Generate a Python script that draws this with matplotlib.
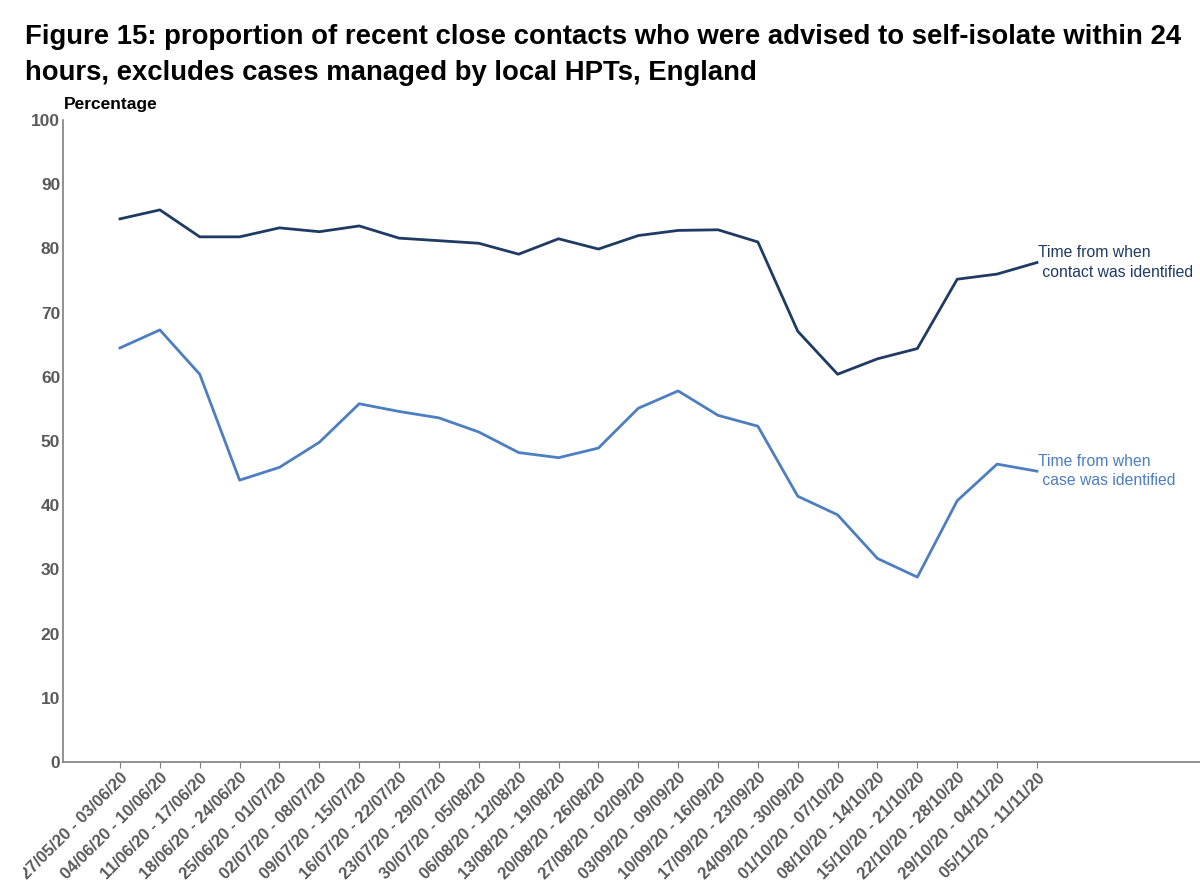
import matplotlib
matplotlib.use("Agg")
import matplotlib.pyplot as plt
from matplotlib.transforms import Bbox, TransformedBbox

plt.rcParams['font.family'] = ['Liberation Sans', 'DejaVu Sans']

weeks = ["27/05/20 - 03/06/20", "04/06/20 - 10/06/20", "11/06/20 - 17/06/20",
         "18/06/20 - 24/06/20", "25/06/20 - 01/07/20", "02/07/20 - 08/07/20",
         "09/07/20 - 15/07/20", "16/07/20 - 22/07/20", "23/07/20 - 29/07/20",
         "30/07/20 - 05/08/20", "06/08/20 - 12/08/20", "13/08/20 - 19/08/20",
         "20/08/20 - 26/08/20", "27/08/20 - 02/09/20", "03/09/20 - 09/09/20",
         "10/09/20 - 16/09/20", "17/09/20 - 23/09/20", "24/09/20 - 30/09/20",
         "01/10/20 - 07/10/20", "08/10/20 - 14/10/20", "15/10/20 - 21/10/20",
         "22/10/20 - 28/10/20", "29/10/20 - 04/11/20", "05/11/20 - 11/11/20"]

contact_identified = [84.6, 86.0, 81.8, 81.8, 83.2, 82.6, 83.5, 81.6, 81.2, 80.8,
                      79.1, 81.5, 79.9, 82.0, 82.8, 82.9, 81.0, 67.1, 60.4, 62.8,
                      64.4, 75.2, 76.0, 77.8]
case_identified = [64.5, 67.3, 60.4, 43.9, 45.9, 49.8, 55.8, 54.6, 53.6, 51.4,
                   48.2, 47.4, 48.9, 55.1, 57.8, 54.0, 52.3, 41.4, 38.5, 31.7,
                   28.8, 40.7, 46.4, 45.3]

series_labels = ["Time from when\n contact was identified",
                 "Time from when\n case was identified"]
y_ticks = [0, 10, 20, 30, 40, 50, 60, 70, 80, 90, 100]

dark = '#1F3A63'
light = '#4C7EC1'
grey = '#595959'

fig = plt.figure(figsize=(12, 8.96), dpi=100)
ax = fig.add_axes([63/1200, 1 - 762/896, 1 - 63/1200, (762 - 120)/896])

x = list(range(len(weeks)))
ax.plot(x, contact_identified, color=dark, lw=2.0, solid_joinstyle='round')
ax.plot(x, case_identified, color=light, lw=2.0, solid_joinstyle='round')

ax.text(x[-1] + 0.02, contact_identified[-1], series_labels[0], color=dark,
        fontsize=11.3, ha='left', va='center', linespacing=1.35)
ax.text(x[-1] + 0.02, case_identified[-1], series_labels[1], color=light,
        fontsize=11.3, ha='left', va='center', linespacing=1.35)

ax.set_ylim(0, 100)
ax.set_xlim(-1.43, 27.09)
ax.set_yticks(y_ticks)
ax.set_yticklabels([str(v) for v in y_ticks], fontsize=12.5, fontweight='bold', color=grey)
ax.set_xticks(x)
ax.set_xticklabels(weeks, rotation=45, ha='right', va='top', rotation_mode='anchor',
                   fontsize=12, fontweight='bold', color=grey)

# the source chart clips its category labels a little inside the left edge
clip = TransformedBbox(Bbox([[23/1200, 0], [1, 1]]), fig.transFigure)
for lab in ax.get_xticklabels():
    lab.set_clip_box(clip)
    lab.set_clip_on(True)

for s in ['top', 'right']:
    ax.spines[s].set_visible(False)
for s in ['left', 'bottom']:
    ax.spines[s].set_color('#7f7f7f')
    ax.spines[s].set_linewidth(1.2)
ax.tick_params(axis='x', length=4, color='#7f7f7f', pad=2)
ax.tick_params(axis='y', length=0, pad=2)

fig.text(25/1200, 1 - 44/896,
         "Figure 15: proportion of recent close contacts who were advised to self-isolate within 24",
         fontsize=19.8, fontweight='bold', ha='left', va='baseline', color='black')
fig.text(25/1200, 1 - 80/896,
         "hours, excludes cases managed by local HPTs, England",
         fontsize=19.8, fontweight='bold', ha='left', va='baseline', color='black')
fig.text(64/1200, 1 - 109/896, "Percentage", fontsize=12.5, fontweight='bold',
         ha='left', va='baseline', color='black')

fig.savefig("out.png", dpi=100)
